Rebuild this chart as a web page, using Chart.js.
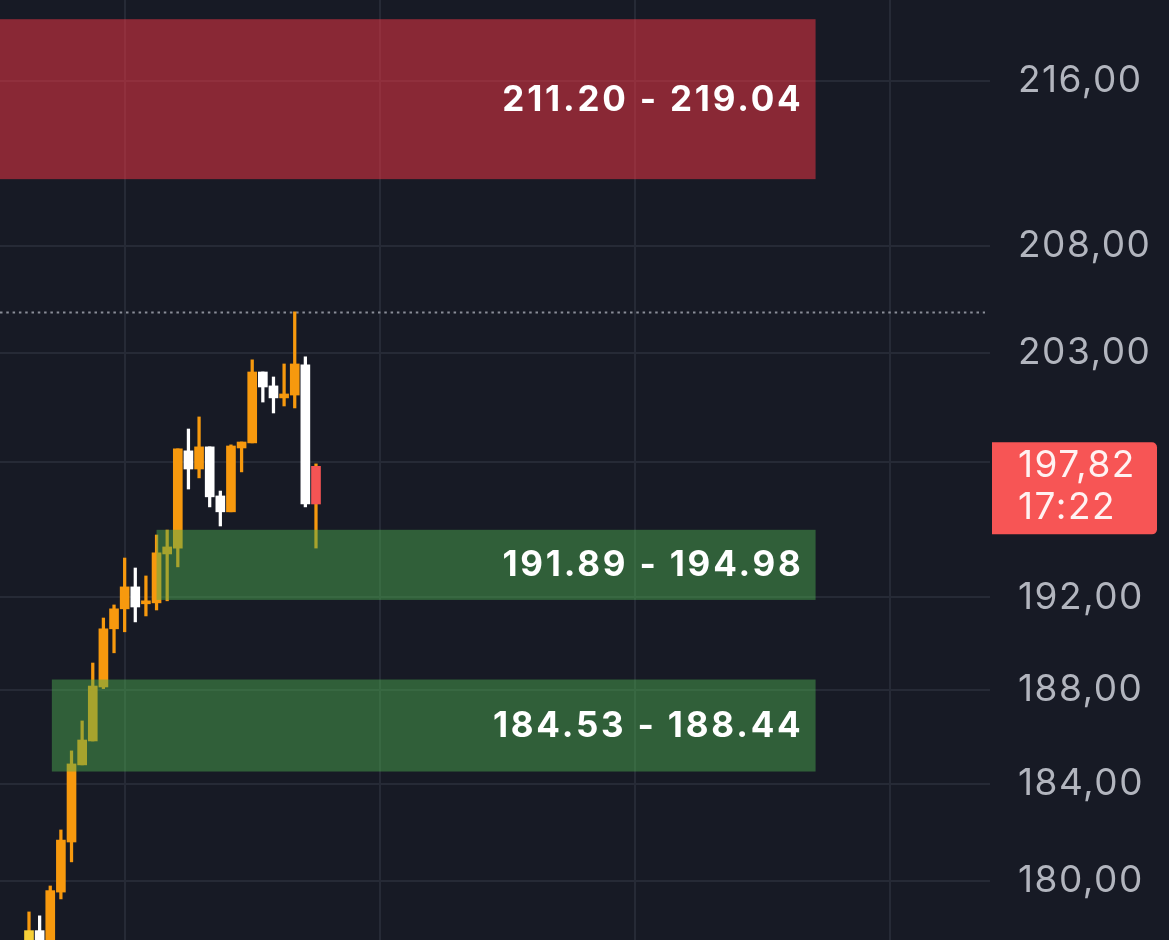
<!DOCTYPE html>
<html>
<head>
<meta charset="utf-8">
<script src="https://cdn.jsdelivr.net/npm/chart.js@4.4.1/dist/chart.umd.min.js"></script>
<style>
  html, body { margin: 0; padding: 0; background: #171a25; }
  #wrap { width: 1169px; height: 940px; }
</style>
</head>
<body>
<div id="wrap"><canvas id="chart" width="1169" height="940"></canvas></div>
<script>
// candles, oldest first (log price axis)
const opens  = [177.10, 177.96, 177.20, 179.53, 181.59, 184.81, 185.82, 188.12, 190.63, 191.50, 192.46, 191.72, 191.76, 193.91,
                194.17, 198.52, 197.70, 198.70, 196.49, 195.78, 198.65, 198.88, 202.12, 201.48, 200.93, 201.06, 202.45, 196.13];
const highs  = [178.72, 178.56, 179.78, 182.09, 185.40, 186.67, 189.15, 191.10, 191.67, 193.73, 193.29, 192.94, 194.75, 194.97,
                198.61, 199.51, 200.06, 198.70, 196.71, 198.79, 198.92, 202.68, 202.12, 201.89, 202.49, 204.91, 202.82, 197.93];
const lows   = [177.00, 177.00, 177.00, 179.25, 180.77, 184.81, 185.82, 188.05, 189.59, 190.50, 190.93, 191.19, 191.45, 191.85,
                193.34, 196.80, 197.30, 196.00, 195.15, 195.78, 197.57, 198.88, 200.74, 200.24, 200.56, 200.47, 196.00, 194.17];
const closes = [177.96, 177.30, 179.59, 181.67, 184.85, 185.86, 188.16, 190.63, 191.50, 192.46, 191.58, 191.85, 193.96, 194.22,
                198.61, 197.70, 198.70, 196.45, 195.78, 198.74, 198.92, 202.12, 201.43, 200.93, 201.11, 202.49, 196.13, 197.82];

// price zones
const zoneLow   = [211.20, 191.89, 184.53];
const zoneHigh  = [219.04, 194.98, 188.44];
const zoneStart = [-4, 12, 2.15];
const zoneEnd   = [74, 74, 74];
const zoneSide  = ['supply', 'demand', 'demand'];

const priceTicks = [180, 184, 188, 192, 198, 203, 208, 216];
const timeTicks = [9, 33, 57, 81];
const timerText = '17:22';

const ORANGE = '#f7990e';
const WHITE = '#ffffff';
const RED = '#f55454';
const YELLOW = '#f7d038';
const last = closes.length - 1;

function bodyColor(i) {
  if (i === 0) return YELLOW;
  if (i === last) return RED;
  return closes[i] >= opens[i] ? ORANGE : WHITE;
}
function wickColor(i) {
  if (i === 0 || i === last) return ORANGE;
  return bodyColor(i);
}

const fmt = v => v.toFixed(2).replace('.', ',');

function noPadding(s) {
  s.paddingTop = 0;
  s.paddingBottom = 0;
  s.paddingLeft = 0;
  s.paddingRight = 0;
}

const zonesPlugin = {
  id: 'zones',
  beforeDraw(chart) {
    // wider spacing for the axis labels
    chart.ctx.letterSpacing = '1.5px';
  },
  beforeDatasetsDraw(chart) {
    const { ctx, chartArea, scales: { y } } = chart;
    const top = Math.max(...highs);
    const py = Math.round(y.getPixelForValue(top)) + 0.5;
    ctx.save();
    ctx.strokeStyle = '#8a8d98';
    ctx.lineWidth = 2;
    ctx.setLineDash([2.5, 3.8]);
    ctx.beginPath();
    ctx.moveTo(chartArea.left, py);
    ctx.lineTo(chartArea.right - 5, py);
    ctx.stroke();
    ctx.restore();
  },
  afterDatasetsDraw(chart) {
    const { ctx, scales: { x, y } } = chart;
    ctx.save();
    zoneLow.forEach((lo, i) => {
      const x0 = x.getPixelForValue(zoneStart[i]);
      const x1 = x.getPixelForValue(zoneEnd[i]);
      const y0 = y.getPixelForValue(zoneHigh[i]);
      const y1 = y.getPixelForValue(lo);
      ctx.fillStyle = zoneSide[i] === 'supply' ? 'rgba(242,54,69,0.52)' : 'rgba(76,175,80,0.47)';
      ctx.fillRect(x0, y0, x1 - x0, y1 - y0);
      ctx.fillStyle = '#ffffff';
      ctx.font = '700 35px Inter, "Noto Sans", sans-serif';
      ctx.letterSpacing = '2.8px';
      ctx.textAlign = 'right';
      ctx.textBaseline = 'middle';
      ctx.fillText(lo.toFixed(2) + ' - ' + zoneHigh[i].toFixed(2), x1 - 12, (y0 + y1) / 2 + 1);
    });
    ctx.restore();
  },
  afterDraw(chart) {
    const { ctx, chartArea, scales: { y } } = chart;
    const py = y.getPixelForValue(closes[last]);
    const left = chartArea.right + 2, right = 1157, top = py - 24, bottom = py + 68;
    ctx.save();
    ctx.fillStyle = '#f75555';
    ctx.beginPath();
    ctx.roundRect(left, top, right - left, bottom - top, [0, 5, 5, 0]);
    ctx.fill();
    ctx.fillStyle = '#fff2f2';
    ctx.font = '400 37px Inter, "Noto Sans", sans-serif';
    ctx.letterSpacing = '1.5px';
    ctx.textAlign = 'left';
    ctx.textBaseline = 'middle';
    ctx.fillText(fmt(closes[last]), chartArea.right + 28, py);
    ctx.fillText(timerText, chartArea.right + 28, py + 42);
    ctx.restore();
  }
};

const idx = closes.map((c, i) => i);

new Chart(document.getElementById('chart'), {
  type: 'bar',
  data: {
    datasets: [{
      label: 'body',
      data: idx.map(i => ({ x: i, y: [opens[i], closes[i]] })),
      backgroundColor: idx.map(bodyColor),
      barThickness: 9,
      minBarLength: 2,
      grouped: false,
      order: 0
    }, {
      label: 'wick',
      data: idx.map(i => ({ x: i, y: [lows[i], highs[i]] })),
      backgroundColor: idx.map(wickColor),
      barThickness: 2.6,
      grouped: false,
      order: 1
    }]
  },
  options: {
    responsive: false,
    animation: false,
    layout: { padding: 0 },
    plugins: { legend: { display: false }, tooltip: { enabled: false } },
    scales: {
      x: {
        type: 'linear',
        min: -2.728,
        max: 90.41,
        offset: false,
        grid: { color: '#262a36', lineWidth: 2, drawTicks: false, offset: false },
        border: { display: false },
        ticks: { display: false },
        afterBuildTicks: s => { s.ticks = timeTicks.map(v => ({ value: v })); },
        afterFit: s => { s.height = 0; noPadding(s); }
      },
      y: {
        type: 'logarithmic',
        position: 'right',
        min: 177.58,
        max: 220.0,
        grid: { color: '#262a36', lineWidth: 2, drawTicks: false },
        border: { display: false },
        ticks: {
          color: '#b2b5be',
          padding: 28,
          font: { family: 'Inter, "Noto Sans", sans-serif', size: 37 },
          callback: v => (v === 198 ? '' : fmt(v))
        },
        afterBuildTicks: s => { s.ticks = priceTicks.map(v => ({ value: v })); },
        afterFit: s => { s.width = 179; noPadding(s); }
      }
    }
  },
  plugins: [zonesPlugin]
});
</script>
</body>
</html>
